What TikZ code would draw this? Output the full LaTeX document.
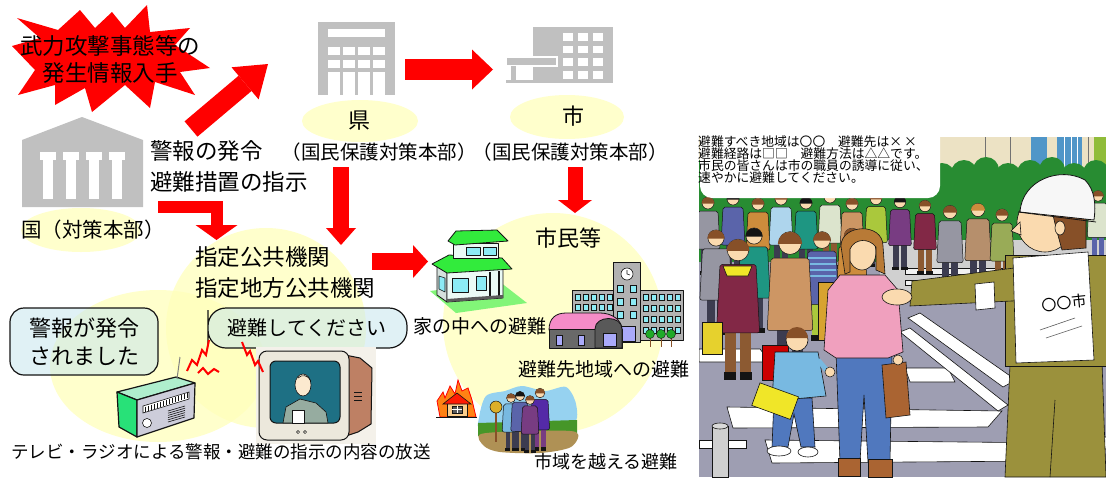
\documentclass[tikz,border=0pt]{standalone}
\usepackage{fontspec}
\newfontfamily\jp{Noto Sans CJK JP}
\usetikzlibrary{arrows.meta}

\definecolor{alertred}{RGB}{255,0,0}
\definecolor{bldgray}{RGB}{192,192,192}
\definecolor{paleyel}{RGB}{255,255,187}
\definecolor{bubblecyan}{RGB}{200,231,237}
\definecolor{radiogreen}{RGB}{40,225,120}
\definecolor{radiotop}{RGB}{175,238,205}
\definecolor{radiofront}{RGB}{205,205,218}
\definecolor{tvbezel}{RGB}{236,232,220}
\definecolor{tvbrown}{RGB}{190,128,100}
\definecolor{tvscreen}{RGB}{30,112,132}
\definecolor{suit}{RGB}{150,172,160}
\definecolor{roofgreen}{RGB}{50,235,60}
\definecolor{lawn}{RGB}{130,245,120}
\definecolor{wallwhite}{RGB}{235,250,245}
\definecolor{glass}{RGB}{140,235,245}
\definecolor{schoolgray}{RGB}{178,178,178}
\definecolor{gymroof}{RGB}{245,140,200}
\definecolor{gymbody}{RGB}{105,105,105}
\definecolor{gymwin}{RGB}{170,170,250}
\definecolor{treegreen}{RGB}{30,170,40}
\definecolor{flame}{RGB}{255,130,20}
\definecolor{housepeach}{RGB}{250,205,140}
\definecolor{skyblue}{RGB}{150,210,240}
\definecolor{grass}{RGB}{70,150,40}
\definecolor{soil}{RGB}{175,145,85}
\definecolor{road}{RGB}{158,158,178}
\definecolor{pave}{RGB}{208,208,208}
\definecolor{hedge}{RGB}{40,140,50}
\definecolor{facade}{RGB}{236,226,196}
\definecolor{winblue}{RGB}{80,150,200}
\definecolor{skin}{RGB}{250,218,175}
\definecolor{hairbrown}{RGB}{135,80,40}
\definecolor{coatmaroon}{RGB}{130,40,70}
\definecolor{coattan}{RGB}{205,150,100}
\definecolor{coatteal}{RGB}{30,150,130}
\definecolor{coatblue}{RGB}{90,100,170}
\definecolor{coatgray}{RGB}{150,150,162}
\definecolor{coatolive}{RGB}{170,200,60}
\definecolor{coatpurple}{RGB}{120,60,130}
\definecolor{coatlight}{RGB}{220,228,205}
\definecolor{coatorange}{RGB}{205,140,60}
\definecolor{pinktop}{RGB}{240,160,190}
\definecolor{jeans}{RGB}{80,120,190}
\definecolor{kidblue}{RGB}{120,185,225}
\definecolor{uniform}{RGB}{155,145,60}
\definecolor{bagyellow}{RGB}{240,230,40}
\definecolor{bagbrown}{RGB}{170,100,50}
\definecolor{pantsbrown}{RGB}{140,90,50}
\definecolor{darkpants}{RGB}{60,60,80}
\definecolor{ink}{RGB}{20,20,20}

% a simple standing figure: x, y of head centre, scale, coat, trousers, hair
\newcommand\crowdfig[6]{%
  \begin{scope}[shift={(#1,#2)},scale=#3]
    \fill[#5] (-7,44) rectangle (-1,70);
    \fill[#5] (1,44) rectangle (7,70);
    \fill[ink] (-8,68) rectangle (-1,72);
    \fill[ink] (1,68) rectangle (8,72);
    \filldraw[fill=#4,draw=ink,line width=0.5pt,rounded corners=2pt]
      (-10,8) -- (10,8) -- (12,46) -- (-12,46) -- cycle;
    \filldraw[fill=skin,draw=ink,line width=0.5pt] (0,0) circle[radius=6];
    \fill[#6] (-6.4,0.5) arc[start angle=180,end angle=360,radius=6.4] -- cycle;
  \end{scope}}

\begin{document}
\begin{tikzpicture}[x=1pt,y=-1pt,
  txt/.style={inner sep=0pt,text=black},
  big/.style={txt,font=\jp\fontsize{22.5}{31}\selectfont},
  mid/.style={txt,font=\jp\fontsize{19.5}{24}\selectfont},
  small/.style={txt,font=\jp\fontsize{19}{24}\selectfont},
  halo/.style={fill=paleyel,fill opacity=0.75},
  bubble/.style={draw=ink,line width=1.2pt,fill=bubblecyan,fill opacity=0.55,text opacity=1},
  fatarrow/.style n args={3}{draw=alertred,line width=#1,
    -{Triangle[width=#2,length=#3,line width=0pt]}},
  outline/.style={draw=ink,line width=0.8pt,line join=round}]

\useasboundingbox (0,0) rectangle (1106,477);
\fill[white] (0,0) rectangle (1106,477);

% ---------- pale halos ----------
\fill[halo] (81,230) ellipse [x radius=60, y radius=22];
\fill[halo] (360,121) ellipse [x radius=58, y radius=21];
\fill[halo] (567,117) ellipse [x radius=57, y radius=22];
\fill[halo] (266,328) circle [radius=100];
\fill[halo] (158,366) ellipse [x radius=108, y radius=76];
\fill[halo] (553,323) circle [radius=110];

% ---------- alert burst ----------
\fill[alertred] (12,46) -- (40,38) -- (17,18) -- (58,30) -- (80,10) -- (95,28)
  -- (112,12) -- (125,28) -- (147,5) -- (150,32) -- (190,28) -- (175,45)
  -- (210,68) -- (180,72) -- (195,95) -- (155,82) -- (150,108) -- (125,85)
  -- (92,112) -- (85,88) -- (55,105) -- (55,85) -- (18,95) -- (35,70) -- cycle;
\node[big,align=center,font=\jp\fontsize{22.5}{27}\selectfont] (alert) at (110,59)
  {武力攻撃事態等の\\発生情報入手};

% ---------- national government building ----------
\fill[bldgray] (22,140) -- (82,117) -- (143,140) -- (143,207) -- (22,207) -- cycle;
\foreach \cx in {48,71,94,117} {
  \fill[white] (\cx-8,152) rectangle (\cx+8,160);
  \fill[white] (\cx-5,160) rectangle (\cx+5,199);
}
\node[txt,font=\jp\fontsize{20.5}{24}\selectfont] (kuni) at (93,230) {国（対策本部）};

% ---------- prefecture building ----------
\fill[bldgray] (318,22) rectangle (395,95);
\fill[white] (328,29) rectangle (385,37);
\foreach \wx in {328,343,358,373} {
  \fill[white] (\wx,47) rectangle (\wx+11.5,55);
  \fill[white] (\wx,60) rectangle (\wx+11.5,68);
  \fill[white] (\wx,72) rectangle (\wx+11.5,95);
}
\node[big,font=\jp\fontsize{22}{26}\selectfont] (ken) at (359,121) {県};
\node[mid] (kenHQ) at (379,152) {（国民保護対策本部）};

% ---------- city hall ----------
\fill[bldgray] (533,27) rectangle (613,83);
\foreach \wx in {563,578,593} {
  \foreach \wy in {33,45.5,58,71} {
    \fill[white] (\wx,\wy) rectangle (\wx+10,\wy+7.5);
  }
}
\filldraw[fill=bldgray,draw=white,line width=1.2pt] (506,57) rectangle (557,66);
\fill[bldgray] (511,66) rectangle (516,80);
\fill[bldgray] (506,80) rectangle (533,83);
\node[big,font=\jp\fontsize{22}{26}\selectfont] (shi) at (573,116) {市};
\node[mid] (shiHQ) at (570,152) {（国民保護対策本部）};

% ---------- headings ----------
\node[big,anchor=west,align=left] (order) at (150,166) {警報の発令\\避難措置の指示};
\node[big,anchor=west,align=left] (agencies) at (195,273) {指定公共機関\\指定地方公共機関};
\node[big,font=\jp\fontsize{22}{26}\selectfont] (citizens) at (568,238) {市民等};

% ---------- flow arrows ----------
\coordinate (kuniOut) at (191,129);
\coordinate (kenIn) at (268,64);
\coordinate (kenOut) at (405,69.5);
\coordinate (shiIn) at (493,69.5);
\coordinate (kenDown) at (341,167);
\coordinate (agencyTop) at (341,245);
\coordinate (shiDown) at (575,167);
\coordinate (citizenTop) at (575,213);
\coordinate (kuniBar) at (158,206.5);
\coordinate (kuniBend) at (216.5,206.5);
\coordinate (agencyLeft) at (216.5,240);
\coordinate (agencyOut) at (372,261.5);
\coordinate (houseIn) at (428,261.5);

\draw[fatarrow={20pt}{42pt}{30pt}] (kuniOut) -- (kenIn);
\draw[fatarrow={21pt}{40pt}{21pt}] (kenOut) -- (shiIn);
\draw[fatarrow={16pt}{30pt}{17pt}] (kenDown) -- (agencyTop);
\draw[fatarrow={15pt}{34pt}{13pt}] (shiDown) -- (citizenTop);
\draw[fatarrow={12pt}{42pt}{15pt},line join=miter] (kuniBar) -- (kuniBend) -- (agencyLeft);
\draw[fatarrow={17pt}{33pt}{15pt}] (agencyOut) -- (houseIn);

% ---------- speech bubbles ----------
\node[bubble,rounded corners=14pt,minimum width=148pt,minimum height=67pt,
  align=center,font=\jp\fontsize{22}{28}\selectfont,inner sep=0pt] (alarm) at (84,341.5)
  {警報が発令\\されました};
\filldraw[bubble] (208,328) [rounded corners=18pt] -- (208,308) -- (407,308) -- (407,348)
  [sharp corners] -- (292,348) -- (293,357) -- (279,348)
  [rounded corners=18pt] -- (208,348) -- (208,328) -- cycle;
\node[txt,font=\jp\fontsize{20}{24}\selectfont] (evacuate) at (307,328) {避難してください};

% ---------- radio ----------
\filldraw[fill=radiotop,outline,line width=1.2pt] (117,392) -- (176,377) -- (195,383) -- (137,400) -- cycle;
\filldraw[fill=radiogreen,outline,line width=1.2pt] (117,392) -- (137,400) -- (137,437) -- (119,427) -- cycle;
\filldraw[fill=radiofront,outline,line width=1.2pt] (137,400) -- (195,383) -- (194,418) -- (137,437) -- cycle;
\filldraw[fill=white,draw=ink,line width=0.6pt] (143,406) -- (189,392) -- (189,399) -- (143,413) -- cycle;
\foreach \i in {0,...,14} \draw[ink,line width=0.4pt] ({145+3*\i},{406.5-0.93*\i}) -- ++(0,5);
\filldraw[fill=white,draw=ink,line width=0.6pt] (147,423) circle[radius=4.5];
\foreach \j in {0,...,5} \draw[ink,line width=0.6pt] (168,{411+2.2*\j}) -- (185,{406+2.2*\j});
\draw[gray,line width=1pt] (177,379) -- (180,357);

% ---------- television ----------
\fill[tvbezel!60] (256,347) rectangle (376,444);
\filldraw[fill=tvbrown,outline,line width=1pt] (340,354) -- (360,358) -- (372,368) -- (371,424) -- (358,432) -- (340,438) -- cycle;
\filldraw[fill=tvbezel,outline,line width=1pt,rounded corners=8pt] (259,351) rectangle (349,440);
\filldraw[fill=tvscreen,outline,line width=1pt,rounded corners=6pt] (270,361) rectangle (340,423);
\filldraw[fill=suit,outline,line width=0.6pt] (283,423) -- (286,407) -- (300,399) -- (316,403) -- (326,412) -- (328,423) -- cycle;
\filldraw[fill=white,outline,line width=0.5pt] (292,410) rectangle (304,423);
\filldraw[fill=skin!60!white,outline,line width=0.6pt] (303,385) ellipse [x radius=8, y radius=11];
\draw[ink,line width=0.6pt] (298,378) .. controls (302,374) and (308,375) .. (311,381);
\draw[ink,line width=0.5pt] (298,432) circle[radius=1.6] (305,432) circle[radius=1.6];
\foreach \k in {0,1,2} \draw[ink,line width=0.6pt] (354,{392+4*\k}) -- (362,{392+4*\k});

% ---------- broadcast zigzags ----------
\draw[alertred,line width=2pt] (187,371) -- (192,360) -- (197,365) -- (202,350) -- (206,355) -- (209,340);
\draw[alertred,line width=2pt] (198,373) -- (203,368) -- (208,374) -- (214,369) -- (219,372);
\draw[alertred,line width=2pt] (242,342) -- (247,355) -- (250,351) -- (255,365) -- (258,361) -- (263,372);

\node[txt,font=\jp\fontsize{17.5}{22}\selectfont] (broadcast) at (221,452)
  {テレビ・ラジオによる警報・避難の指示の内容の放送};

% ---------- house (shelter indoors) ----------
\fill[lawn] (430,291) -- (500,282) -- (527,303) -- (456,313) -- cycle;
\filldraw[fill=wallwhite!80!gray,outline] (437,266) -- (447,270) -- (447,302) -- (437,295) -- cycle;
\filldraw[fill=wallwhite,outline] (447,270) -- (503,266) -- (503,298) -- (447,302) -- cycle;
\filldraw[fill=glass,outline,line width=0.6pt] (439,276) -- (445,278) -- (445,292) -- (439,289) -- cycle;
\filldraw[fill=glass,outline,line width=0.6pt] (452,278) rectangle (468,292);
\filldraw[fill=glass,outline,line width=0.6pt] (476,276) rectangle (486,290);
\draw[ink,line width=1.2pt] (490,272) -- (490,299) (499,271) -- (499,298);
\fill[ink!70] (447,299) -- (503,295) -- (503,298) -- (447,302) -- cycle;
\filldraw[fill=roofgreen,outline] (432,264) -- (449,255) -- (502,258) -- (512,269) -- (447,273) -- cycle;
\filldraw[fill=wallwhite,outline] (453,243) rectangle (498,258);
\filldraw[fill=glass,outline,line width=0.6pt] (466,247) rectangle (480,255);
\filldraw[fill=glass,outline,line width=0.6pt] (483,247) rectangle (496,255);
\filldraw[fill=roofgreen,outline] (448,241) -- (456,231) -- (497,230) -- (508,241) -- (455,245) -- cycle;
\node[small] (indoor) at (480,326) {家の中への避難};

% ---------- school (evacuation area) ----------
\filldraw[fill=schoolgray,outline] (572,290) rectangle (613,320);
\filldraw[fill=schoolgray,outline] (640,290) rectangle (683,340);
\filldraw[fill=schoolgray,outline] (613,262) rectangle (640,342);
\foreach \wx in {575,583,591,599,607} {
  \filldraw[fill=glass,draw=ink,line width=0.4pt] (\wx,294) rectangle (\wx+5,300);
  \filldraw[fill=glass,draw=ink,line width=0.4pt] (\wx,304) rectangle (\wx+5,310);
}
\foreach \wx in {643,651,659,667,675} {
  \foreach \wy in {294,305,316,327} {
    \filldraw[fill=glass,draw=ink,line width=0.4pt] (\wx,\wy) rectangle (\wx+5,\wy+6);
  }
}
\foreach \wy in {285,298,311} {
  \filldraw[fill=glass,draw=ink,line width=0.4pt] (617,\wy) rectangle (623,\wy+7);
  \filldraw[fill=glass,draw=ink,line width=0.4pt] (630,\wy) rectangle (636,\wy+7);
}
\filldraw[fill=gymwin,draw=ink,line width=0.4pt] (619,326) rectangle (635,341);
\filldraw[fill=white,outline,line width=0.6pt] (627,274) circle[radius=6];
\draw[ink,line width=0.6pt] (627,270) -- (627,274) -- (630,275);
\filldraw[fill=gymroof,outline] (549,330) .. controls (549,318) and (556,313) .. (566,313)
  -- (600,313) .. controls (612,313) and (622,320) .. (622,330) -- cycle;
\filldraw[fill=gymbody,outline] (549,329) rectangle (622,348);
\filldraw[fill=gymbody!85!black,outline] (595,348) -- (595,329) .. controls (595,315) and (622,315) .. (622,329) -- (622,348) -- cycle;
\filldraw[fill=gymwin,draw=ink,line width=0.4pt] (556,335) rectangle (562,345);
\filldraw[fill=gymwin,draw=ink,line width=0.4pt] (578,335) rectangle (584,345);
\filldraw[fill=gymwin,draw=ink,line width=0.4pt] (603,333) rectangle (616,346);
\foreach \tx in {650,661,671} {
  \draw[hairbrown,line width=1pt] (\tx,338) -- (\tx,347);
  \filldraw[fill=treegreen,draw=ink,line width=0.4pt] (\tx,334) circle[radius=4.5];
}
\node[small] (refuge) at (604,369) {避難先地域への避難};

% ---------- evacuation beyond the city ----------
\filldraw[fill=flame,draw=alertred,line width=0.8pt] (440,417) -- (437,401) -- (443,392) -- (445,398)
  -- (450,386) -- (455,394) -- (458,380) -- (462,391) -- (468,388) -- (472,400) -- (476,417) -- cycle;
\filldraw[fill=housepeach,draw=ink,line width=0.6pt] (447,403) rectangle (467,416);
\filldraw[fill=alertred!80!flame,draw=ink,line width=0.6pt] (443,404) -- (457,393) -- (471,404) -- cycle;
\filldraw[fill=ink!70,draw=ink,line width=0.3pt] (452,406) rectangle (462,413);
\draw[white,line width=0.6pt] (457,406) -- (457,413) (452,409.5) -- (462,409.5);
\draw[ink,line width=1pt] (436,417) -- (477,417);

\fill[skyblue] plot[smooth cycle] coordinates {(479,418) (486,396) (505,391) (522,386)
  (545,391) (566,387) (576,404) (573,424) (530,430) (482,430)};
\fill[grass] (478,423) -- (577,420) -- (577,434) -- (478,436) -- cycle;
\fill[soil] plot[smooth cycle] coordinates {(481,434) (530,431) (576,432) (571,447)
  (540,453) (500,452) (484,446)};
\draw[hairbrown,line width=1.5pt] (496,412) -- (496,442);
\filldraw[fill=coatorange!70!yellow,draw=ink,line width=0.5pt] (496,407) circle[radius=6];
\begin{scope}
  \crowdfig{511}{398}{0.74}{kidblue}{darkpants}{hairbrown}
  \crowdfig{540}{393}{0.8}{coatpurple!70!blue}{coatpurple}{hairbrown}
  \crowdfig{520}{396}{0.77}{coatblue}{darkpants}{ink}
  \crowdfig{530}{400}{0.74}{coatpurple}{darkpants}{hairbrown}
\end{scope}
\node[txt,font=\jp\fontsize{18}{22}\selectfont] (beyond) at (606,462) {市域を越える避難};

% ---------- street scene ----------
\begin{scope}
  \clip (699,137) rectangle (1106,477);
  \fill[road] (699,137) rectangle (1106,477);
  \fill[facade] (699,137) rectangle (1106,190);
  \fill[winblue] (1031,137) rectangle (1047,168);
  \fill[winblue] (1057,137) rectangle (1082,173);
  \draw[white,line width=1pt] (1064,137) -- (1064,173) (1071,137) -- (1071,173) (1077,137) -- (1077,173);
  \draw[ink!60,line width=0.6pt] (985,137) -- (985,175) (1010,137) -- (1010,175) (1088,137) -- (1088,175);
  \fill[coatolive!80!hedge] (1094,137) rectangle (1106,165);
  % hedge behind the crowd
  \fill[hedge] (699,175) rectangle (1106,262);
  \foreach \hx in {700,722,...,1110} \fill[hedge] (\hx,{176-mod(\hx,3)*3}) circle[radius=13];
  \fill[pave] (880,240) rectangle (1106,300);
  \fill[road] (699,300) rectangle (1106,477);
  % railing
  \filldraw[fill=white!90!gray,draw=ink,line width=0.6pt] (905,268) rectangle (1030,274);
  \filldraw[fill=white!90!gray,draw=ink,line width=0.6pt] (905,280) rectangle (1030,285);
  % crosswalk
  \filldraw[fill=white,draw=ink,line width=0.6pt] (699,349) -- (760,349) -- (770,362) -- (699,362) -- cycle;
  \filldraw[fill=white,draw=ink,line width=0.6pt] (905,368) -- (948,368) -- (955,382) -- (910,382) -- cycle;
  \filldraw[fill=white,draw=ink,line width=0.6pt] (727,407) -- (1002,411) -- (988,427) -- (733,428) -- cycle;
  \filldraw[fill=white,draw=ink,line width=0.6pt] (765,440) -- (1062,443) -- (1045,461) -- (772,463) -- cycle;
  \filldraw[fill=white,draw=ink,line width=0.6pt] (908,318) -- (920,313) -- (1016,380) -- (1003,387) -- cycle;
  \filldraw[fill=white,draw=ink,line width=0.6pt] (900,332) -- (910,328) -- (1008,405) -- (998,411) -- cycle;
  \filldraw[fill=white,draw=ink,line width=0.6pt] (1070,425) -- (1080,420) -- (1110,440) -- (1110,452) -- cycle;
  % distant crowd
  \crowdfig{708}{203}{1.0}{coatgray}{darkpants}{hairbrown}
  \crowdfig{733}{199}{1.0}{coatblue}{darkpants}{ink}
  \crowdfig{758}{204}{1.0}{coatorange}{pantsbrown}{hairbrown}
  \crowdfig{781}{199}{1.0}{kidblue!60!white}{darkpants}{hairbrown}
  \crowdfig{806}{203}{1.0}{coatteal}{darkpants}{ink}
  \crowdfig{830}{197}{1.0}{coatlight}{pantsbrown}{hairbrown}
  \crowdfig{852}{204}{1.0}{coattan}{darkpants}{hairbrown}
  \crowdfig{876}{199}{0.95}{coatolive}{darkpants}{hairbrown}
  \crowdfig{900}{202}{0.95}{coatpurple}{darkpants}{ink}
  \crowdfig{925}{206}{0.95}{coatmaroon}{pantsbrown}{hairbrown}
  \crowdfig{950}{212}{1.1}{coatgray}{darkpants}{hairbrown}
  \crowdfig{978}{210}{1.1}{coattan!70!gray}{darkpants}{coatorange}
  \crowdfig{1002}{215}{1.0}{coatolive!60!gray}{pantsbrown}{hairbrown}
  \crowdfig{1098}{196}{0.9}{coatlight}{coatblue}{hairbrown}
  % middle row
  \crowdfig{716}{238}{1.35}{coatgray}{darkpants}{hairbrown}
  \crowdfig{754}{236}{1.35}{coatteal}{darkpants}{ink}
  \crowdfig{822}{240}{1.4}{coatblue}{coatolive}{hairbrown}
  \foreach \sy in {258,264,270,276} \draw[kidblue,line width=1.4pt] (808,\sy) -- (836,\sy);
  \crowdfig{852}{236}{1.3}{coatorange}{darkpants}{hairbrown}
  % front row
  \crowdfig{738}{250}{1.8}{coatmaroon}{pantsbrown}{hairbrown}
  \filldraw[fill=bagyellow,draw=ink,line width=0.6pt] (723,266) -- (752,266) -- (748,276) -- (727,276) -- cycle;
  \filldraw[fill=bagyellow!80!brown,draw=ink,line width=0.6pt] (702,322) rectangle (722,354);
  \crowdfig{790}{243}{1.9}{coattan}{darkpants}{hairbrown}
  % child
  \filldraw[fill=alertred!80!black,draw=ink,line width=0.6pt] (762,345) rectangle (788,380);
  \filldraw[fill=jeans,draw=ink,line width=0.6pt] (774,398) -- (812,398) -- (815,447) -- (801,447)
    -- (794,414) -- (788,447) -- (772,447) -- cycle;
  \filldraw[fill=white,draw=ink,line width=0.6pt] (779,451) ellipse [x radius=12, y radius=5];
  \filldraw[fill=white,draw=ink,line width=0.6pt] (808,452) ellipse [x radius=10, y radius=5];
  \filldraw[fill=kidblue,draw=ink,line width=0.6pt] (775,352) -- (818,352) -- (826,396) -- (772,401) -- cycle;
  \draw[kidblue,line width=5pt] (818,360) -- (830,374);
  \filldraw[fill=skin,draw=ink,line width=0.6pt] (797,340) circle[radius=11];
  \fill[hairbrown] (786,338) arc[start angle=180,end angle=360,radius=11] -- cycle;
  \filldraw[fill=bagyellow,draw=ink,line width=0.6pt,rotate around={-20:(775,400)}] (755,389) rectangle (796,413);
  % woman
  \filldraw[fill=coatorange!80!yellow,draw=ink,line width=0.6pt] (818,282) rectangle (838,340);
  \filldraw[fill=jeans,draw=ink,line width=0.6pt] (836,352) -- (892,352) -- (890,462) -- (868,462)
    -- (864,395) -- (860,462) -- (840,462) -- cycle;
  \filldraw[fill=bagbrown,draw=ink,line width=0.6pt] (838,458) rectangle (860,476);
  \filldraw[fill=bagbrown,draw=ink,line width=0.6pt] (868,459) rectangle (892,477);
  \filldraw[fill=pinktop,draw=ink,line width=0.6pt] (840,275) -- (885,275) -- (898,290) -- (903,352)
    -- (888,358) -- (836,358) -- (824,350) -- (828,290) -- cycle;
  \filldraw[fill=skin,draw=ink,line width=0.6pt] (862,252) ellipse [x radius=14, y radius=18];
  \filldraw[fill=coatorange!70!hairbrown,draw=ink,line width=0.6pt] (845,274) -- (841,246)
    .. controls (841,224) and (883,222) .. (883,246) -- (885,274) -- (876,270) -- (876,247)
    .. controls (869,238) and (855,238) .. (850,249) -- (850,272) -- cycle;
  \filldraw[fill=bagbrown,draw=ink,line width=0.6pt] (882,365) -- (906,362) -- (910,415) -- (886,418) -- cycle;
  \filldraw[fill=skin,draw=ink,line width=0.5pt] (898,360) circle[radius=5];
  \filldraw[fill=skin,draw=ink,line width=0.5pt] (830,372) circle[radius=5];
  % traffic warden
  \filldraw[fill=uniform,draw=ink,line width=0.6pt] (1010,365) -- (1102,362) -- (1106,477) -- (1005,477) -- cycle;
  \draw[ink,line width=0.6pt] (1055,400) -- (1050,477);
  \filldraw[fill=uniform,draw=ink,line width=0.6pt] (1005,255) rectangle (1106,366);
  \filldraw[fill=uniform,draw=ink,line width=0.6pt] (1030,266) -- (912,281) -- (910,306) -- (1032,300) -- cycle;
  \filldraw[fill=white,draw=ink,line width=0.6pt] (975,284) -- (994,282) -- (995,308) -- (976,310) -- cycle;
  \filldraw[fill=skin,draw=ink,line width=0.6pt] (897,297) ellipse [x radius=15, y radius=8];
  \filldraw[fill=white,draw=ink,line width=0.6pt] (1013,258) -- (1088,252) -- (1094,360) -- (1016,363) -- cycle;
  \node[txt,font=\jp\fontsize{15}{16}\selectfont,rotate=6] (badge) at (1064,303) {〇〇市};
  \draw[ink!70,line width=0.6pt] (1040,330) -- (1075,318) (1046,338) -- (1082,326);
  \filldraw[fill=skin,draw=ink,line width=0.6pt] (1045,223) ellipse [x radius=28, y radius=29];
  \filldraw[fill=skin,draw=ink,line width=0.6pt] (1020,222) -- (1011,231) -- (1021,235) -- cycle;
  \filldraw[fill=hairbrown,draw=ink,line width=0.6pt] (1050,202) -- (1086,206) -- (1086,248) -- (1062,250) -- (1056,228) -- cycle;
  \filldraw[fill=skin,draw=ink,line width=0.6pt] (1060,228) ellipse [x radius=5, y radius=7];
  \filldraw[fill=white!94!gray,draw=ink,line width=0.8pt] (1020,212) .. controls (1022,180) and (1060,166) .. (1085,180)
    .. controls (1095,190) and (1096,205) .. (1094,220) -- cycle;
  \draw[ink,line width=0.8pt] (1018,212) -- (1096,222);
  % bollard and rail
  \filldraw[fill=white,draw=ink,line width=0.6pt] (699,440) rectangle (746,448);
  \filldraw[fill=pave,draw=ink,line width=0.6pt] (712,426) rectangle (728,477);
  \filldraw[fill=pave!80!white,draw=ink,line width=0.6pt] (720,426) ellipse [x radius=8, y radius=3];
\end{scope}

% ---------- announcement ----------
\fill[white,rounded corners=12pt] (700,100) rectangle (940,198);
\node[txt,anchor=north west,align=left,font=\jp\fontsize{12.8}{12}\selectfont] (notice) at (698,136)
  {避難すべき地域は〇〇　避難先は×\,×\\
   避難経路は□□　避難方法は△△です。\\
   市民の皆さんは市の職員の誘導に従い、\\
   速やかに避難してください。};

\end{tikzpicture}
\end{document}
